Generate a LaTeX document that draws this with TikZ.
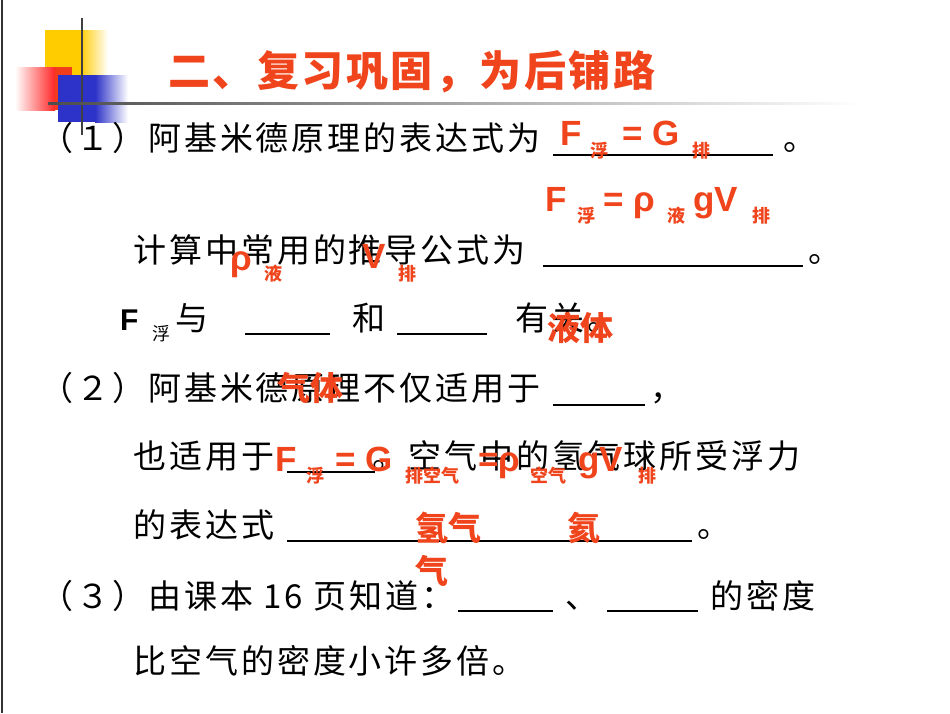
\documentclass[tikz,border=0pt]{standalone}
\usepackage{fontspec}
\setmainfont{Liberation Sans}
\newfontfamily\cjk[LetterSpace=9]{Noto Sans CJK SC}
\newfontfamily\cjkr{Noto Sans CJK SC}
\newfontfamily\cjkt[LetterSpace=6]{Noto Sans CJK SC}
\definecolor{ared}{RGB}{240,68,28}
\definecolor{ayel}{RGB}{255,204,0}
\definecolor{ablu}{RGB}{45,50,200}
\tikzset{
 tx/.style={anchor=base west,inner sep=0pt,font=\fontsize{33}{33}\selectfont\cjk},
 rt/.style={anchor=base west,inner sep=0pt,text=ared,font=\fontsize{33}{33}\selectfont\cjkr\bfseries},
 rf/.style={anchor=base west,inner sep=0pt,text=ared,font=\fontsize{35}{35}\selectfont\fontspec{Liberation Sans}\bfseries},
 rs/.style={anchor=base west,inner sep=0pt,text=ared,font=\fontsize{18}{18}\selectfont\cjkr\bfseries},
 bf/.style={anchor=base west,inner sep=0pt,font=\fontsize{30}{30}\selectfont\fontspec{Liberation Sans}\bfseries},
 bs/.style={anchor=base west,inner sep=0pt,font=\fontsize{18}{18}\selectfont\cjkr},
 ul/.style={line width=1.2pt}
}
\begin{document}
\begin{tikzpicture}[x=1pt,y=-1pt]
\useasboundingbox (0,0) rectangle (950,713);
\fill[white] (0,0) rectangle (950,713);
\draw[line width=1.5pt,black!80] (2,0) -- (2,713);
% decoration
\fill[ayel] (45,30) rectangle (80,75);
\shade[left color=ayel,right color=white] (80,30) rectangle (108,75);
\fill[ared!90!red] (55,67) rectangle (72,110);
\shade[left color=white,right color=red!85] (15,67) rectangle (55,110);
\fill[ablu] (58,75) rectangle (95,122);
\shade[left color=ablu,right color=white] (95,75) rectangle (128,122);
\draw[line width=1.5pt,black!75] (82,18) -- (82,135);
\shade[left color=black!70,right color=white] (48,102) rectangle (860,104.5);
% title
\node[anchor=base west,inner sep=0pt,text=ared,font=\fontsize{42}{42}\selectfont\cjkt\bfseries] (title) at (168,86) {二、复习巩固，为后铺路};
% line 1
\node[tx] (l1) at (40,150) {（１）阿基米德原理的表达式为};
\draw[ul] (553,155) -- (773,155);
\node[tx] (d1) at (783,150) {。};
\node[rf] (a1) at (560,145) {F};
\node[rs] (a2) at (590,157) {浮};
\node[rf] (a3) at (622,145) {= G};
\node[rs] (a4) at (692,157) {排};
% line 2 red
\node[rf] (b1) at (545,211) {F};
\node[rs] (b2) at (577,222) {浮};
\node[rf] (b3) at (603,211) {= ρ};
\node[rs] (b4) at (667,222) {液};
\node[rf] (b5) at (693,211) {gV};
\node[rs] (b6) at (752,222) {排};
% line 3
\node[tx] (l3) at (133,262) {计算中常用的推导公式为};
\draw[ul] (543,266) -- (803,266);
\node[tx] (d3) at (808,262) {。};
\node[rf] (c1) at (230,270) {ρ};
\node[rs] (c2) at (264,280) {液};
\node[rf] (c3) at (362,268) {V};
\node[rs] (c4) at (398,280) {排};
% line 4
\node[bf] (e1) at (120,330) {F};
\node[bs] (e2) at (152,340) {浮};
\node[tx] (e3) at (175,330) {与};
\draw[ul] (245,334) -- (330,334);
\node[tx] (e4) at (352,330) {和};
\draw[ul] (397,334) -- (487,334);
\node[tx] (e5) at (515,330) {有关。};
\node[rt] (e6) at (547,340) {液体};
% line 5
\node[tx] (l5) at (40,400) {（２）阿基米德原理不仅适用于};
\draw[ul] (553,405) -- (645,405);
\node[tx] (d5) at (650,400) {，};
\node[rt] (f1) at (277,400) {气体};
% line 6
\node[tx] (l6) at (133,468) {也适用于};
\draw[ul] (287,472) -- (375,472);
\node[tx] (l6b) at (372,468) {。空气中的氢气球所受浮力};
\node[rf] (g1) at (275,471) {F};
\node[rs] (g2) at (306,482) {浮};
\node[rf] (g3) at (335,471) {= G};
\node[rs] (g4) at (405,482) {排空气};
\node[rf] (g5) at (478,471) {=ρ};
\node[rs] (g6) at (530,482) {空气};
\node[rf] (g7) at (578,471) {gV};
\node[rs] (g8) at (638,482) {排};
% line 7
\node[tx] (l7) at (133,537) {的表达式};
\draw[ul] (287,541) -- (692,541);
\node[tx] (d7) at (697,537) {。};
\node[rt] (h1) at (415,540) {氢气};
\node[rt] (h2) at (567,540) {氦};
\node[rt] (h3) at (415,583) {气};
% line 8
\node[tx] (l8) at (40,608) {（３）由课本 16 页知道：};
\draw[ul] (458,611) -- (553,611);
\node[tx] (d8) at (565,608) {、};
\draw[ul] (607,611) -- (698,611);
\node[tx] (l8b) at (710,608) {的密度};
% line 9
\node[tx] (l9) at (133,673) {比空气的密度小许多倍。};
\end{tikzpicture}
\end{document}
